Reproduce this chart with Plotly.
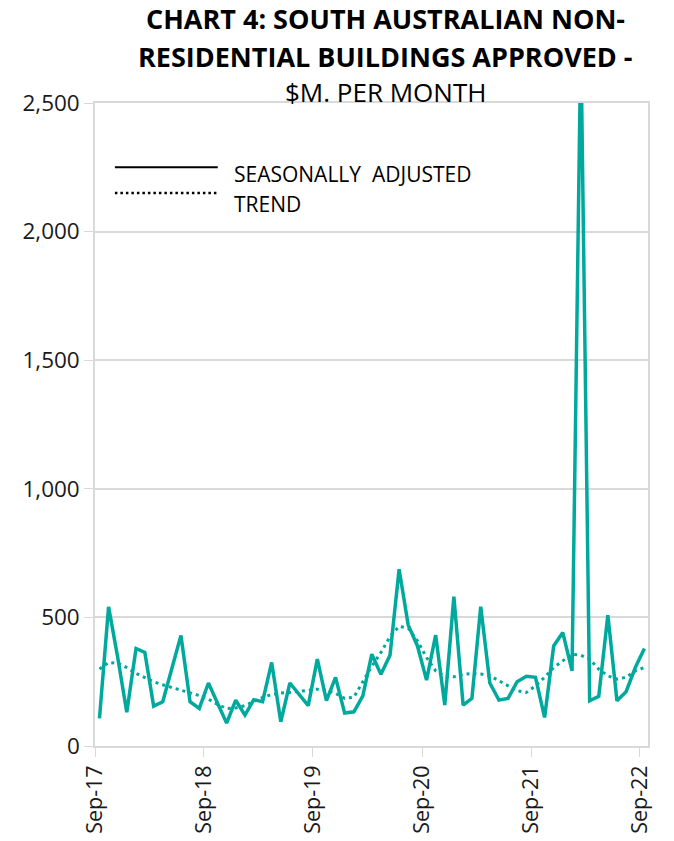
## chart 4: SA non-residential buildings approved
import pandas as pd
import plotly.graph_objects as go

#### data ($m per month)
months = pd.date_range("2017-09-01", "2022-09-01", freq="MS")

seasonally_adjusted = [
    107, 541, 345, 131,
    379, 364, 155, 172, 301, 430, 172, 146, 245, 167, 89, 178,
    120, 180, 172, 325, 94, 245, 202, 157, 338, 176, 267, 128,
    133, 195, 357, 279, 353, 687, 470, 389, 256, 431, 159, 581,
    159, 185, 542, 245, 179, 185, 250, 271, 267, 111, 389, 441,
    292, 2750, 176, 193, 509, 176, 211, 305, 379,
]

trend = [
    299, 325, 322, 305,
    282, 265, 250, 238, 228, 218, 208, 196, 182, 162, 146, 148,
    157, 172, 189, 200, 206, 208, 212, 217, 221, 216, 205, 185,
    190, 250, 310, 364, 425, 465, 458, 409, 344, 292, 271, 269,
    278, 282, 280, 273, 254, 237, 215, 208, 234, 267, 305, 331,
    357, 353, 338, 299, 273, 260, 267, 292, 305,
]

tick_dates = ["2017-09-01", "2018-09-01", "2019-09-01", "2020-09-01", "2021-09-01", "2022-09-01"]
tick_labels = ["Sep-17", "Sep-18", "Sep-19", "Sep-20", "Sep-21", "Sep-22"]
y_ticks = [0, 500, 1000, 1500, 2000, 2500]
y_labels = ["0", "500", "1,000", "1,500", "2,000", "2,500"]

TEAL = "#00A99D"
GRID = "#D9D9D9"
FONT = "Open Sans"

fig = go.Figure()

fig.add_trace(go.Scatter(
    x=months, y=trend, mode="lines", name="TREND",
    xperiod="M1", xperiodalignment="middle",
    line=dict(color=TEAL, width=3, dash="3px,4px"),
    showlegend=False))

fig.add_trace(go.Scatter(
    x=months, y=seasonally_adjusted, mode="lines", name="SEASONALLY ADJUSTED",
    xperiod="M1", xperiodalignment="middle",
    line=dict(color=TEAL, width=3.5),
    showlegend=False))

## legend drawn by hand (black samples, teal series)
fig.add_shape(type="line", xref="paper", yref="paper", x0=0.036, x1=0.222, y0=0.900, y1=0.900,
              line=dict(color="black", width=2))
fig.add_shape(type="line", xref="paper", yref="paper", x0=0.036, x1=0.222, y0=0.860, y1=0.860,
              line=dict(color="black", width=2.5, dash="2.5px,3px"))
fig.add_annotation(text="SEASONALLY\u00a0 ADJUSTED", xref="paper", yref="paper", x=0.248, y=0.890,
                   xanchor="left", yanchor="middle", showarrow=False,
                   font=dict(family=FONT, size=21, color="black"))
fig.add_annotation(text="TREND", xref="paper", yref="paper", x=0.248, y=0.843,
                   xanchor="left", yanchor="middle", showarrow=False,
                   font=dict(family=FONT, size=21, color="black"))

## title, three lines
for txt, ypx, bold in [("CHART 4: SOUTH AUSTRALIAN NON-", 19, True),
                       ("RESIDENTIAL BUILDINGS APPROVED -", 56, True),
                       ("$M. PER MONTH", 92, False)]:
    fig.add_annotation(text=f"<b>{txt}</b>" if bold else txt,
                       xref="paper", yref="paper", x=(385 - 95) / 553, y=(746 - ypx) / 643,
                       xanchor="center", yanchor="middle", showarrow=False,
                       font=dict(family=FONT, size=27 if bold else 26, color="black"))

fig.update_layout(
    width=674, height=841,
    margin=dict(l=95, r=26, t=103, b=95),
    paper_bgcolor="white", plot_bgcolor="white",
    font=dict(family=FONT, color="#1a1a1a"),
    xaxis=dict(
        type="date", range=["2017-09-01", "2022-09-28"], automargin=False,
        tickvals=tick_dates, ticktext=tick_labels, tickangle=-90,
        tickfont=dict(size=21.5), ticks="outside", ticklen=9, tickcolor=GRID,
        showgrid=False, showline=True, linecolor=GRID, linewidth=1.5, mirror=True,
        zeroline=False),
    yaxis=dict(
        range=[0, 2500], tickvals=y_ticks, ticktext=y_labels, automargin=False,
        tickfont=dict(size=22.5), ticks="outside", ticklen=9, tickcolor=GRID,
        showgrid=True, gridcolor=GRID, gridwidth=1.5,
        showline=True, linecolor=GRID, linewidth=1.5, mirror=True,
        zeroline=False),
)

# page body margin would push the figure 8px right/down
fig.write_html("out.html", config={"displayModeBar": False},
               post_script="document.body.style.margin='0';")
